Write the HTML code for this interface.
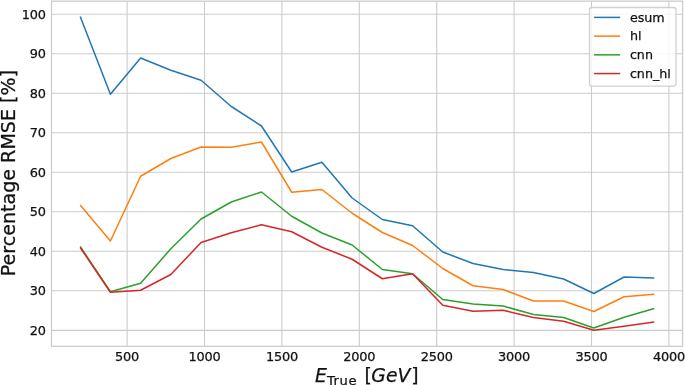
<!DOCTYPE html>
<html lang="en"><head><meta charset="utf-8"><title>Percentage RMSE vs E True</title>
<style>html,body{margin:0;padding:0;background:#fff;overflow:hidden}svg{display:block}</style>
</head><body>
<svg width="685" height="385" viewBox="0 0 685 385" font-family="'DejaVu Sans', 'Liberation Sans', sans-serif" fill="#111111"><style>text{stroke:#111111;stroke-width:0.25px;paint-order:stroke}</style>
<rect width="685" height="385" fill="#fff"/>
<g stroke="#cccccc" stroke-width="1.1" fill="none">
<line x1="51.5" x2="682.6" y1="14.25" y2="14.25"/>
<line x1="51.5" x2="682.6" y1="53.75" y2="53.75"/>
<line x1="51.5" x2="682.6" y1="93.3" y2="93.3"/>
<line x1="51.5" x2="682.6" y1="132.8" y2="132.8"/>
<line x1="51.5" x2="682.6" y1="172.3" y2="172.3"/>
<line x1="51.5" x2="682.6" y1="211.8" y2="211.8"/>
<line x1="51.5" x2="682.6" y1="251.3" y2="251.3"/>
<line x1="51.5" x2="682.6" y1="290.8" y2="290.8"/>
<line x1="51.5" x2="682.6" y1="330.35" y2="330.35"/>
<line x1="127.1" x2="127.1" y1="1.15" y2="346.3"/>
<line x1="204.5" x2="204.5" y1="1.15" y2="346.3"/>
<line x1="281.9" x2="281.9" y1="1.15" y2="346.3"/>
<line x1="359.3" x2="359.3" y1="1.15" y2="346.3"/>
<line x1="436.7" x2="436.7" y1="1.15" y2="346.3"/>
<line x1="514.1" x2="514.1" y1="1.15" y2="346.3"/>
<line x1="591.5" x2="591.5" y1="1.15" y2="346.3"/>
<line x1="668.9" x2="668.9" y1="1.15" y2="346.3"/>
</g>
<g fill="none" stroke-width="1.5" stroke-linejoin="round" stroke-linecap="butt">
<polyline stroke="#1f77b4" points="80.20,16.50 110.42,94.20 140.63,58.00 170.84,70.25 201.06,80.25 231.27,106.50 261.49,126.00 291.70,172.00 321.92,162.25 352.13,198.00 382.35,219.50 412.56,225.75 442.78,252.00 473.00,263.50 503.21,269.50 533.43,272.50 563.64,279.00 593.86,293.50 624.07,277.00 654.29,278.00"/>
<polyline stroke="#ff7f0e" points="80.20,205.00 110.42,241.00 140.63,176.25 170.84,158.50 201.06,147.00 231.27,147.25 261.49,142.00 291.70,192.25 321.92,189.50 352.13,213.25 382.35,232.50 412.56,245.50 442.78,268.50 473.00,285.75 503.21,289.50 533.43,301.00 563.64,301.00 593.86,311.50 624.07,296.75 654.29,294.25"/>
<polyline stroke="#2ca02c" points="80.20,246.50 110.42,291.75 140.63,283.25 170.84,248.75 201.06,219.00 231.27,202.00 261.49,192.00 291.70,216.25 321.92,233.00 352.13,245.00 382.35,269.50 412.56,273.75 442.78,299.50 473.00,304.00 503.21,306.00 533.43,314.50 563.64,317.50 593.86,328.00 624.07,317.25 654.29,308.50"/>
<polyline stroke="#d62728" points="80.20,247.50 110.42,292.25 140.63,290.25 170.84,274.50 201.06,242.50 231.27,232.75 261.49,224.75 291.70,231.75 321.92,247.25 352.13,259.25 382.35,278.75 412.56,273.75 442.78,305.25 473.00,311.25 503.21,310.25 533.43,317.50 563.64,321.25 593.86,330.25 624.07,326.25 654.29,322.00"/>
</g>
<rect x="51.5" y="1.15" width="631.1" height="345.15000000000003" fill="none" stroke="#cccccc" stroke-width="1.3"/>
<g font-size="12.9" letter-spacing="-0.2">
<text x="45.8" y="18.80" text-anchor="end">100</text>
<text x="45.8" y="58.30" text-anchor="end">90</text>
<text x="45.8" y="97.85" text-anchor="end">80</text>
<text x="45.8" y="137.35" text-anchor="end">70</text>
<text x="45.8" y="176.85" text-anchor="end">60</text>
<text x="45.8" y="216.35" text-anchor="end">50</text>
<text x="45.8" y="255.85" text-anchor="end">40</text>
<text x="45.8" y="295.35" text-anchor="end">30</text>
<text x="45.8" y="334.90" text-anchor="end">20</text>
<text x="127.1" y="360.9" text-anchor="middle">500</text>
<text x="204.5" y="360.9" text-anchor="middle">1000</text>
<text x="281.9" y="360.9" text-anchor="middle">1500</text>
<text x="359.3" y="360.9" text-anchor="middle">2000</text>
<text x="436.7" y="360.9" text-anchor="middle">2500</text>
<text x="514.1" y="360.9" text-anchor="middle">3000</text>
<text x="591.5" y="360.9" text-anchor="middle">3500</text>
<text x="668.9" y="360.9" text-anchor="middle">4000</text>
</g>
<text transform="translate(14.5,173.1) rotate(-90)" text-anchor="middle" font-size="19.1">Percentage RMSE [%]</text>
<text y="381.7" font-size="18.8"><tspan x="315.1" font-style="italic">E</tspan><tspan x="326.9" font-size="13.1" letter-spacing="0.6" dy="2.9">True</tspan><tspan x="364.5" dy="-2.9">[</tspan><tspan font-style="italic" dx="-0.5">GeV</tspan><tspan dx="0.9">]</tspan></text>
<rect x="589.5" y="7.5" width="86.5" height="78.7" rx="2.6" fill="#fff" fill-opacity="0.8" stroke="#cccccc" stroke-opacity="0.9" stroke-width="1.3"/>
<line x1="594.1" x2="620.2" y1="17.40" y2="17.40" stroke="#1f77b4" stroke-width="1.5" stroke-linecap="butt"/>
<text x="629.9" y="21.75" font-size="12.7">esum</text>
<line x1="594.1" x2="620.2" y1="36.12" y2="36.12" stroke="#ff7f0e" stroke-width="1.5" stroke-linecap="butt"/>
<text x="629.9" y="40.47" font-size="12.7">hl</text>
<line x1="594.1" x2="620.2" y1="54.84" y2="54.84" stroke="#2ca02c" stroke-width="1.5" stroke-linecap="butt"/>
<text x="629.9" y="59.19" font-size="12.7">cnn</text>
<line x1="594.1" x2="620.2" y1="73.56" y2="73.56" stroke="#d62728" stroke-width="1.5" stroke-linecap="butt"/>
<text x="629.9" y="77.91" font-size="12.7">cnn_hl</text>
</svg>
</body></html>
